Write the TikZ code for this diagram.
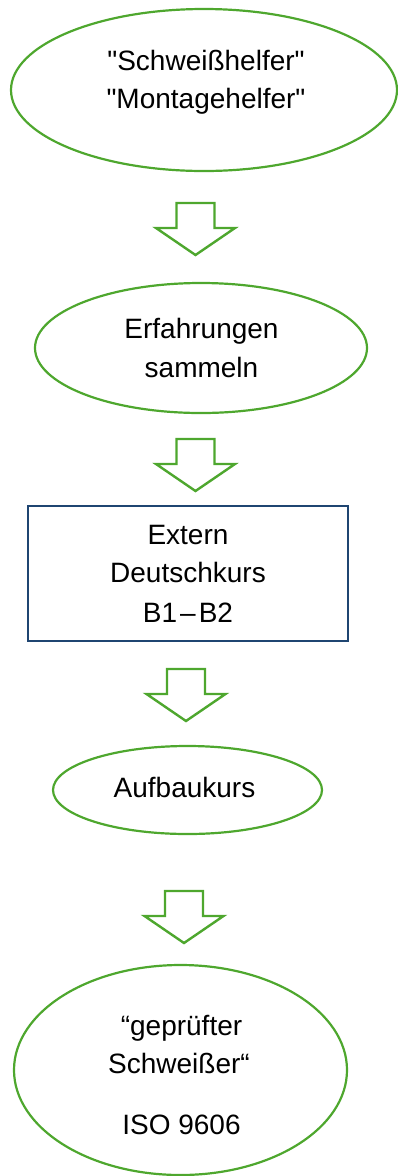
\documentclass[tikz,border=0pt]{standalone}
\usepackage{fontspec}
\setmainfont{Liberation Sans}[Ligatures=TeXOff]
\usetikzlibrary{shapes.geometric}
\definecolor{grn}{HTML}{4EA72E}
\definecolor{navy}{HTML}{1F4571}
\begin{document}
\begin{tikzpicture}[x=1pt,y=-1pt,
  ell/.style={draw=grn, line width=2.2pt, ellipse, inner sep=0pt, outer sep=0pt},
  rbox/.style={draw=navy, line width=2.2pt, rectangle, inner sep=0pt, outer sep=0pt},
  txt/.style={font=\fontsize{28}{34}\selectfont, anchor=base, inner sep=0pt},
  barrow/.style={draw=grn, line width=2.4pt, fill=white, line join=miter},
  blockarr/.pic={\draw[barrow] (-19,0) -- (19,0) -- (19,25) -- (39.5,25) -- (0,52) -- (-39.5,25) -- (-19,25) -- cycle;}]
\useasboundingbox (0,0) rectangle (398,1176);
% shapes
\node[ell, minimum width=386pt, minimum height=162pt] (e1) at (204,90) {};
\node[ell, minimum width=332pt, minimum height=130pt] (e2) at (201,348) {};
\node[rbox, minimum width=320pt, minimum height=135pt] (b3) at (188,573.5) {};
\node[ell, minimum width=269pt, minimum height=88pt] (e4) at (187.5,790) {};
\node[ell, minimum width=333pt, minimum height=210pt] (e5) at (180.5,1070) {};
% arrows
\pic (a1) at (195.5,203) {blockarr};
\pic (a2) at (195.5,439) {blockarr};
\pic (a3) at (186,669) {blockarr};
\pic (a4) at (184,891) {blockarr};
% texts
\node[txt] (t1a) at (206,70) {"Schweißhelfer"};
\node[txt] (t1b) at (206,108) {"Montagehelfer"};
\node[txt] (t2a) at (201.5,338) {Erfahrungen};
\node[txt] (t2b) at (201.5,377) {sammeln};
\node[txt] (t3a) at (188,544) {Extern};
\node[txt] (t3b) at (188,582) {Deutschkurs};
\node[txt] (t3c) at (188,622) {B1\hspace{3pt}–\hspace{3pt}B2};
\node[txt] (t4a) at (184.5,797) {Aufbaukurs};
\node[txt] (t5a) at (181.5,1035) {“geprüfter};
\node[txt] (t5b) at (179,1073) {Schweißer“};
\node[txt] (t5c) at (181.5,1134) {ISO 9606};
\end{tikzpicture}
\end{document}
